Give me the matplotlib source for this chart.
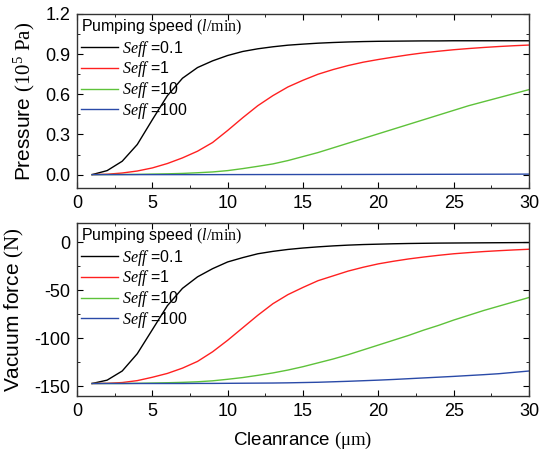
import numpy as np
import matplotlib
matplotlib.use("Agg")
import matplotlib.pyplot as plt
from matplotlib.ticker import MultipleLocator

plt.rcParams['font.family'] = ['Liberation Sans', 'DejaVu Sans']
plt.rcParams['mathtext.fontset'] = 'custom'
plt.rcParams['mathtext.rm'] = 'Liberation Serif'
plt.rcParams['mathtext.it'] = 'Liberation Serif:italic'
plt.rcParams['axes.unicode_minus'] = False

# clearance (um)
clearance = np.arange(1, 31)

# pressure (10^5 Pa)
p_01 = [0.0, 0.03, 0.10, 0.225, 0.41, 0.59, 0.72, 0.80, 0.85, 0.89,
        0.92, 0.94, 0.955, 0.967, 0.975, 0.982, 0.987, 0.991, 0.994, 0.996,
        0.997, 0.998, 0.999, 0.999, 1.0, 1.0, 1.0, 1.0, 1.0, 1.0]
p_1 = [0.0, 0.003, 0.012, 0.027, 0.05, 0.083, 0.125, 0.175, 0.24, 0.33,
       0.425, 0.515, 0.59, 0.655, 0.705, 0.75, 0.785, 0.815, 0.84, 0.86,
       0.878, 0.895, 0.91, 0.922, 0.933, 0.942, 0.95, 0.957, 0.963, 0.968]
p_10 = [0.0, 0.0005, 0.001, 0.002, 0.004, 0.006, 0.009, 0.014, 0.02, 0.03,
        0.045, 0.062, 0.08, 0.105, 0.135, 0.165, 0.20, 0.235, 0.27, 0.305,
        0.34, 0.375, 0.41, 0.445, 0.48, 0.515, 0.545, 0.575, 0.605, 0.635]
p_100 = [0.0, 0.0, 0.0, 0.0, 0.0, 0.0, 0.0, 0.0, 0.0, 0.0003,
         0.0004, 0.0005, 0.0006, 0.0007, 0.0008, 0.0009, 0.001, 0.0012, 0.0014, 0.0016,
         0.0018, 0.002, 0.0022, 0.0024, 0.0026, 0.0028, 0.003, 0.0032, 0.0035, 0.0038]

# vacuum force (N)
f_01 = [-147, -143.5, -134, -116, -91, -66, -48, -36, -27.5, -20.5,
        -16, -12, -9.5, -7.5, -6, -4.8, -3.8, -3, -2.4, -2,
        -1.6, -1.3, -1.1, -0.9, -0.8, -0.7, -0.6, -0.5, -0.4, -0.3]
f_1 = [-147, -146.8, -146, -144, -140.5, -136.5, -131, -124, -114, -102,
       -89, -76, -64, -54.5, -47, -40, -35, -30, -26, -22.5,
       -19.8, -17.4, -15.4, -13.6, -12, -10.8, -9.7, -8.8, -8, -7.3]
f_10 = [-147, -147, -147, -146.8, -146.5, -146.2, -145.8, -145.2, -144.2, -142.6,
        -140.8, -138.5, -136, -133, -129.5, -125.5, -121.5, -117, -112, -107,
        -102, -97, -91.5, -86.5, -81, -76, -71, -66.5, -62, -57.5]
f_100 = [-147, -147, -147, -147, -147, -147, -147, -146.9, -146.9, -146.8,
         -146.7, -146.6, -146.5, -146.3, -146, -145.7, -145.2, -144.7, -144.1, -143.5,
         -142.8, -142, -141.2, -140.4, -139.6, -138.7, -137.8, -136.8, -135.4, -134]

labels = ['0.1', '1', '10', '100']
colors = ['black', '#ff2020', '#5ec23a', '#2a4aa8']

fig = plt.figure(figsize=(5.4, 4.5), dpi=100)
ax1 = fig.add_axes([0.1426, 0.5822, 0.837, 0.3867])
ax2 = fig.add_axes([0.1426, 0.12, 0.837, 0.3844])

for ys, lab, c in zip([p_01, p_1, p_10, p_100], labels, colors):
    ax1.plot(clearance, ys, color=c, lw=1.0, label=r'$\mathit{Seff}$ =' + lab)
for ys, lab, c in zip([f_01, f_1, f_10, f_100], labels, colors):
    ax2.plot(clearance, ys, color=c, lw=1.0, label=r'$\mathit{Seff}$ =' + lab)

ax1.set_ylim(-0.1, 1.2)
ax1.yaxis.set_major_locator(MultipleLocator(0.3))
ax1.yaxis.set_minor_locator(MultipleLocator(0.15))
ax1.set_ylabel(r'Pressure $\mathrm{(10^5\ Pa)}$', fontsize=15, labelpad=6)

ax2.set_ylim(-160, 20)
ax2.yaxis.set_major_locator(MultipleLocator(50))
ax2.yaxis.set_minor_locator(MultipleLocator(25))
ax2.set_ylabel(r'Vacuum force $\mathrm{(N)}$', fontsize=15, labelpad=6)
ax2.set_xlabel(r'Cleanrance $\mathrm{(\mu m)}$', fontsize=13.5, labelpad=7)

for ax in (ax1, ax2):
    ax.set_xlim(0, 30)
    ax.xaxis.set_major_locator(MultipleLocator(5))
    ax.xaxis.set_minor_locator(MultipleLocator(2.5))
    ax.tick_params(which='both', direction='in', top=True, right=True, labelsize=13)
    ax.tick_params(which='major', length=4, pad=5)
    ax.tick_params(which='minor', length=2.5)
    for sp in ax.spines.values():
        sp.set_linewidth(1.0)
        sp.set_color('#333333')
    leg = ax.legend(loc='upper left', frameon=False, fontsize=11.5,
                    title=r'Pumping speed $\mathrm{(}\mathit{l}\mathrm{/min)}$',
                    title_fontsize=11.5, handlelength=2.3, handletextpad=0.25,
                    labelspacing=0.05, borderaxespad=0.05, borderpad=0.2)
    leg._legend_box.align = 'left'
    leg._legend_box.sep = 1

fig.savefig('out.png', dpi=100)
